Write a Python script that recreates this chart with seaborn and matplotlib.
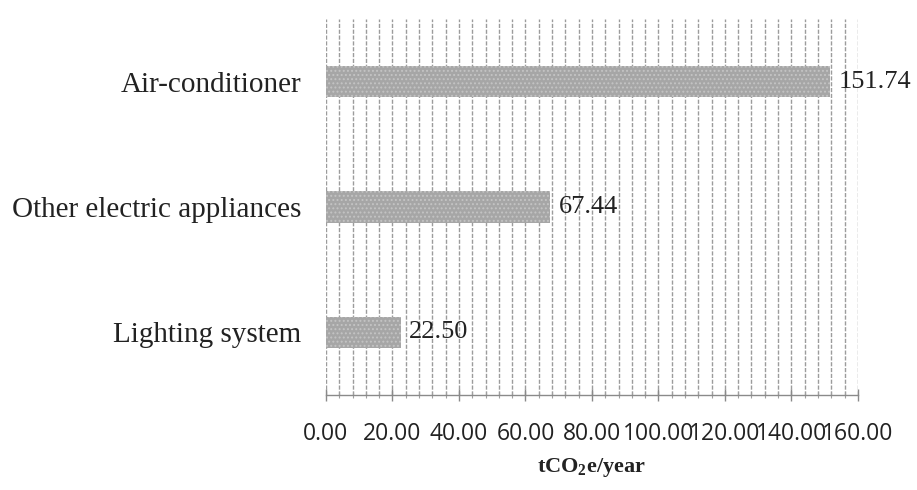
import matplotlib
matplotlib.use("Agg")
import matplotlib.pyplot as plt
from matplotlib.ticker import MultipleLocator, FormatStrFormatter
import seaborn as sns
import pandas as pd

categories = ["Air-conditioner", "Other electric appliances", "Lighting system"]
emissions = [151.74, 67.44, 22.50]
value_labels = ["151.74", "67.44", "22.50"]

df = pd.DataFrame({"category": categories, "emission": emissions})

sns.set_theme(style="white")
plt.rcParams["hatch.linewidth"] = 0.9

fig = plt.figure(figsize=(9.17, 4.90), dpi=100)
ax = fig.add_axes([0.3555, 0.194, 0.58, 0.767])

sns.barplot(data=df, x="emission", y="category", order=categories,
            orient="h", color="#a6a6a6", saturation=1, width=0.25,
            ax=ax, zorder=3)
for p in ax.patches:
    p.set_hatch("....")
    p.set_edgecolor("#c4c4c4")
    p.set_linewidth(0)

ax.set_xlim(0, 160)
ax.set_ylim(2.5, -0.5)

# grid: fine lines every 4 units, labels every 20
ax.xaxis.set_major_locator(MultipleLocator(20))
ax.xaxis.set_minor_locator(MultipleLocator(4))
ax.xaxis.set_major_formatter(FormatStrFormatter("%.2f"))
ax.grid(axis="x", which="both", color="#9c9c9c", linewidth=1.0,
        linestyle=(0, (3, 1.2)), zorder=0)
ax.grid(axis="y", visible=False)

for side in ("left", "top", "right"):
    ax.spines[side].set_visible(False)
ax.spines["bottom"].set_color("#8a8a8a")
ax.spines["bottom"].set_linewidth(1.0)

ax.tick_params(axis="x", which="major", bottom=True, length=9, width=1,
               color="#8a8a8a", direction="inout", pad=15)
ax.tick_params(axis="x", which="minor", bottom=True, length=4, width=0.8,
               color="#a0a0a0", direction="inout")
ax.tick_params(axis="y", left=False, pad=12)

for lbl in ax.get_xticklabels():
    lbl.set_fontfamily("Open Sans")
    lbl.set_fontsize(16.5)
    lbl.set_color("#222222")
for lbl in ax.get_yticklabels():
    lbl.set_fontfamily("Liberation Serif")
    lbl.set_fontsize(21)
    lbl.set_color("#222222")

for i, (v, t) in enumerate(zip(emissions, value_labels)):
    ax.annotate(t, xy=(v, i), xytext=(6, 0), textcoords="offset points",
                ha="left", va="center", fontsize=19,
                fontfamily="Liberation Serif", color="#222222", zorder=4)

ax.set_ylabel("")
ax.set_xlabel("tCO$_\\mathregular{2}$e/year", fontsize=16, fontweight="bold",
              fontfamily="Liberation Serif", color="#222222", labelpad=7)

fig.savefig("out.png", dpi=100, facecolor="white")
